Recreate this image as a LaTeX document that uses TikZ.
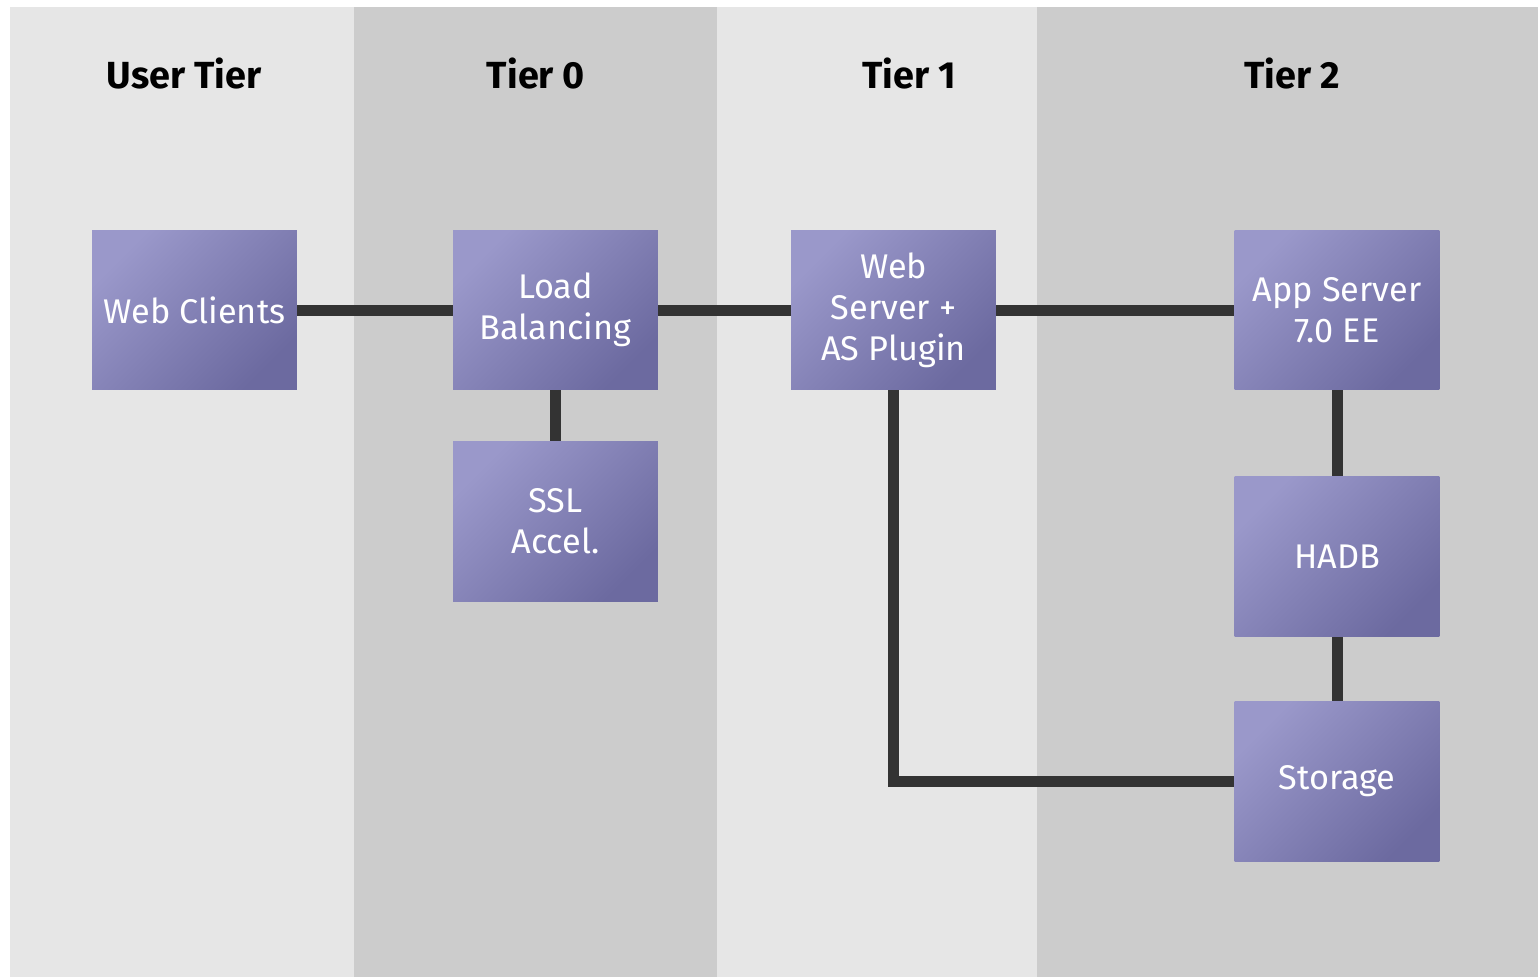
\documentclass[tikz,border=0pt]{standalone}
\usepackage{fontspec}
\setmainfont{Fira Sans}

\definecolor{bandlight}{HTML}{E6E6E6}
\definecolor{banddark}{HTML}{CCCCCC}
\definecolor{boxtop}{HTML}{9A98CA}
\definecolor{boxbot}{HTML}{6C6AA0}
\definecolor{wire}{HTML}{333333}

\tikzset{
	tierbox/.style={rectangle, minimum width=4.1cm, minimum height=3.2cm, inner sep=0pt,
		shading=axis, top color=boxtop, bottom color=boxbot, shading angle=45,
		text=white, align=center, font=\fontsize{19.5}{23.3}\selectfont},
	tiertitle/.style={anchor=base, font=\bfseries\fontsize{21.5}{26}\selectfont},
	wireline/.style={draw=wire, line width=0.22cm},
}

\begin{document}
\begin{tikzpicture}[x=0.02cm, y=-0.02cm]
			%%%%% START %%%%%
			\useasboundingbox (0, 0) rectangle (1538, 977);
			
			% tier bands
			\fill[bandlight] (10, 7) rectangle (354, 977);
			\fill[banddark] (354, 7) rectangle (717, 977);
			\fill[bandlight] (717, 7) rectangle (1037, 977);
			\fill[banddark] (1037, 7) rectangle (1538, 977);
			
			\node[tiertitle] (usertier) at (184, 88) {User Tier};
			\node[tiertitle] (tier0) at (536, 88) {Tier 0};
			\node[tiertitle] (tier1) at (909, 88) {Tier 1};
			\node[tiertitle] (tier2) at (1292, 88) {Tier 2};
			
			% boxes
			\node[tierbox] (webclients) at (194.5, 310) {Web Clients};
			\node[tierbox] (loadbal) at (555.5, 310) {Load\\Balancing};
			\node[tierbox] (sslaccel) at (555.5, 521.5) {SSL\\Accel.};
			\node[tierbox] (websrv) at (893.5, 310) {Web\\Server +\\AS Plugin};
			\node[tierbox] (appsrv) at (1337, 310) {App Server\\7.0 EE};
			\node[tierbox] (hadb) at (1337, 556.5) {HADB};
			\node[tierbox] (storage) at (1337, 781.5) {Storage};
			
			% wires
			\draw[wireline] (webclients) -- (loadbal);
			\draw[wireline] (loadbal) -- (websrv);
			\draw[wireline] (websrv) -- (appsrv);
			\draw[wireline] (loadbal) -- (sslaccel);
			\draw[wireline] (appsrv) -- (hadb);
			\draw[wireline] (hadb) -- (storage);
			\draw[wireline] (websrv.south) |- (storage.west);
			
			%%%%% END %%%%%
\end{tikzpicture}
\end{document}
